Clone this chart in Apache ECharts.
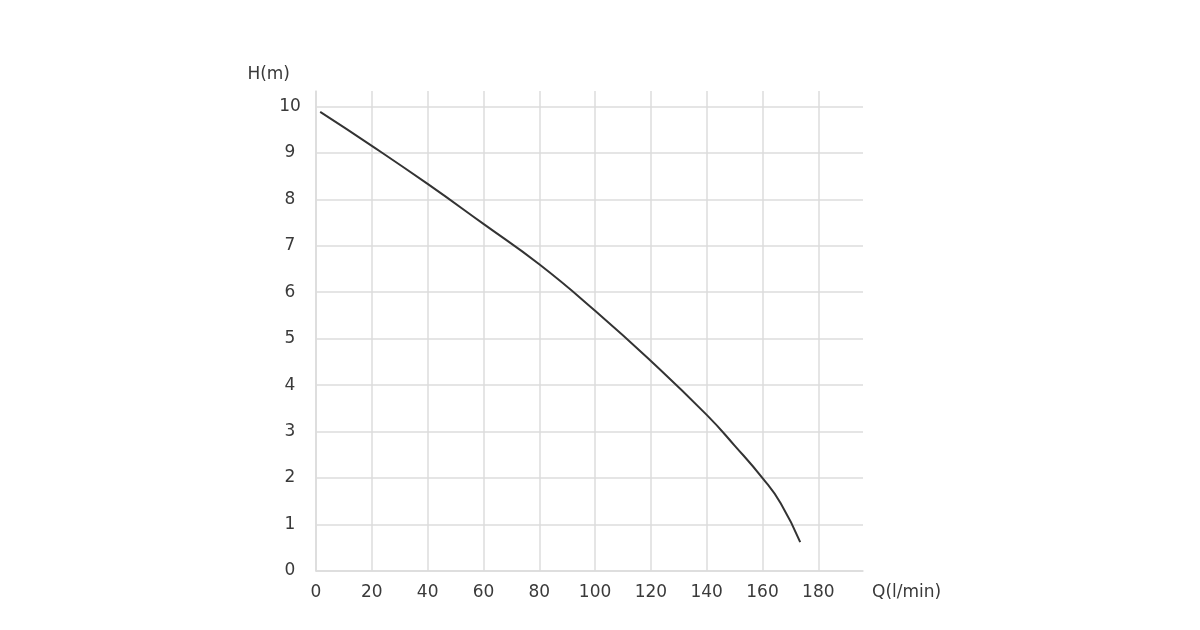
<!DOCTYPE html>
<html>
<head>
<meta charset="utf-8">
<script src="https://cdn.jsdelivr.net/npm/echarts@6/dist/echarts.min.js"></script>
<style>html,body{margin:0;padding:0;background:#fff}#c{width:1200px;height:630px}</style>
</head>
<body>
<div id="c"></div>
<script>
var flowQ = [1.5, 20, 40, 60, 80, 100, 120, 140, 150, 160, 166.5, 173.5];
var headH = [9.88, 9.15, 8.33, 7.47, 6.6, 5.6, 4.52, 3.36, 2.7, 2.0, 1.46, 0.62];
var xName = 'Q(l/min)';
var yName = 'H(m)';

var points = flowQ.map(function (q, i) { return [q, headH[i]]; });
var gridColor = '#dcdcdc';
var textColor = '#3a3a3a';
var fontFam = '"DejaVu Sans", sans-serif';

var chart = echarts.init(document.getElementById('c'));
chart.setOption({
  animation: false,
  grid: { left: 316, right: 337, top: 91, bottom: 59, containLabel: false },
  xAxis: {
    type: 'value', min: 0, max: 196, interval: 20,
    name: xName, nameLocation: 'end', nameGap: 9,
    nameTextStyle: { color: textColor, fontSize: 17, fontFamily: fontFam, align: 'left', verticalAlign: 'top', padding: [13, 0, 0, 0] },
    axisLine: { show: true, lineStyle: { color: gridColor, width: 1.5 } },
    axisTick: { show: false },
    axisLabel: { color: textColor, fontSize: 17, fontFamily: fontFam, margin: 13, showMaxLabel: false },
    splitLine: { show: true, showMaxLine: false, lineStyle: { color: gridColor, width: 1.5 } }
  },
  yAxis: {
    type: 'value', min: 0, max: 10.33, interval: 1,
    name: yName, nameLocation: 'end', nameGap: 8,
    nameTextStyle: { color: textColor, fontSize: 17, fontFamily: fontFam, align: 'right', padding: [0, 26, 0, 0] },
    axisLine: { show: true, lineStyle: { color: gridColor, width: 1.5 } },
    axisTick: { show: false },
    axisLabel: { color: textColor, fontSize: 17, fontFamily: fontFam, margin: 26, align: 'center', showMaxLabel: false },
    splitLine: { show: true, showMaxLine: false, lineStyle: { color: gridColor, width: 1.5 } }
  },
  series: [{
    type: 'line', data: points, smooth: 0.5, showSymbol: false,
    lineStyle: { color: '#333333', width: 2 }
  }]
});
</script>
</body>
</html>
